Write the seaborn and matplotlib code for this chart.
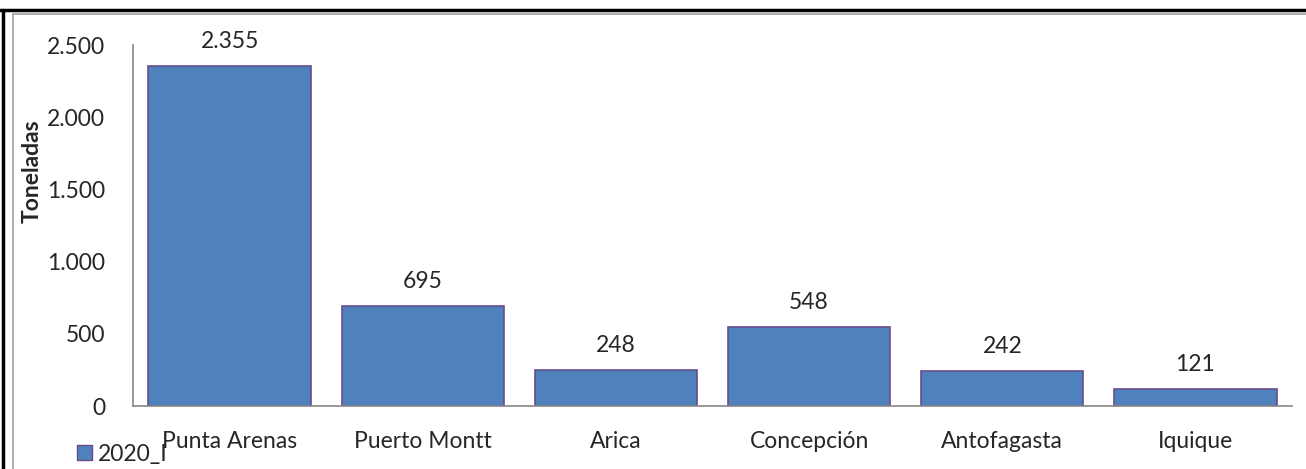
"""
Toneladas por puerto, 2020_I.
"""

import matplotlib
matplotlib.use('Agg')
import matplotlib.pyplot as plt
from matplotlib.lines import Line2D
from matplotlib.patches import Patch
import seaborn as sns
import pandas as pd

puertos = ['Punta Arenas', 'Puerto Montt', 'Arica', 'Concepción', 'Antofagasta', 'Iquique']
toneladas = [2355, 695, 248, 548, 242, 121]
serie = '2020_I'
yticks = [0, 500, 1000, 1500, 2000, 2500]

sns.set_style('white')
plt.rcParams['font.family'] = ['Lato', 'DejaVu Sans']

BAR = '#4F81BD'
EDGE = '#6A4C8C'
AXIS = '#868686'
FS = 16.5

df = pd.DataFrame({'puerto': puertos, 'toneladas': toneladas})

fig = plt.figure(figsize=(13.06, 4.69), dpi=100)
ax = fig.add_axes([133 / 1306, 63 / 469, 1159 / 1306, 361 / 469])

sns.barplot(data=df, x='puerto', y='toneladas', color=BAR, width=0.84,
            edgecolor=EDGE, linewidth=1.2, saturation=1, ax=ax)

ax.set_ylim(0, 2500)
ax.set_xlim(-0.5, len(puertos) - 0.5)
ax.set_yticks(yticks)
ax.set_yticklabels([f'{v:,}'.replace(',', '.') for v in yticks], fontsize=FS)
ax.tick_params(axis='y', length=0, pad=20)
ax.tick_params(axis='x', length=0, pad=18, labelsize=FS)
ax.set_xlabel('')
ax.set_ylabel('Toneladas', fontsize=FS, fontweight='bold')
ax.yaxis.set_label_coords(-0.0777, 0.651)

for s in ['top', 'right']:
    ax.spines[s].set_visible(False)
for s in ['left', 'bottom']:
    ax.spines[s].set_color(AXIS)
    ax.spines[s].set_linewidth(1.2)

# Value labels
for i, v in enumerate(toneladas):
    ax.annotate(f'{v:,}'.replace(',', '.'), (i, v), xytext=(0, 10),
                textcoords='offset points', ha='center', va='bottom', fontsize=FS)

# Legend at bottom left
ax.legend(handles=[Patch(facecolor=BAR, edgecolor=EDGE, label=serie)],
          loc='center left', bbox_to_anchor=(77 / 1306, 15 / 469),
          bbox_transform=fig.transFigure, frameon=False, fontsize=FS,
          handlelength=0.65, handleheight=0.65, handletextpad=0.26, borderpad=0,
          borderaxespad=0)

# Outer frame lines
fig.add_artist(Line2D([0, 1], [1 - 10 / 469] * 2, color='black', lw=2.5, transform=fig.transFigure))
fig.add_artist(Line2D([3 / 1306] * 2, [0, 1 - 10 / 469], color='black', lw=2.5, transform=fig.transFigure))
fig.add_artist(Line2D([13 / 1306, 1], [1 - 14 / 469] * 2, color='#A0A0A0', lw=1.2, transform=fig.transFigure))
fig.add_artist(Line2D([13 / 1306] * 2, [0, 1 - 14 / 469], color='#A0A0A0', lw=1.2, transform=fig.transFigure))

plt.savefig('out.png', dpi=100)
plt.close()
